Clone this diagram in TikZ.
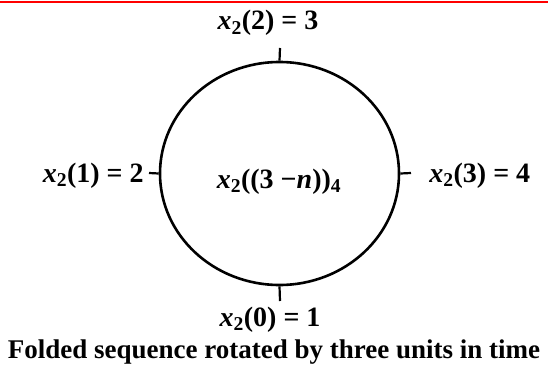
\documentclass[tikz,border=0pt]{standalone}
\usepackage{fontspec}
\setmainfont{Liberation Serif}
\usetikzlibrary{shapes.geometric}
\newcommand{\xtwo}{\textit{x}\textsubscript{2}}
\begin{document}
\begin{tikzpicture}[x=1pt, y=-1pt, line width=2.6pt,
    every node/.style={font=\bfseries\fontsize{28}{32}\selectfont, inner sep=0pt},
    lbl/.style={anchor=base}]
				% 1. 画布与顶部红线
				\useasboundingbox (0,0) rectangle (548,369);
				\draw[red, line width=2pt] (0,2.5) -- (548,2.5);
				
				% 2. 圆环
				\node[ellipse, draw, minimum width=239pt, minimum height=223pt] (ring) at (279.5,173.5) {};
				
				% 3. 刻度端点
				\coordinate (t2) at (280,48);
				\coordinate (t1) at (149,173);
				\coordinate (t3) at (411,173);
				\coordinate (t0) at (280,301);
				\draw[line width=2.2pt] (ring.north) -- (t2);
				\draw[line width=2.2pt] (ring.west) -- (t1);
				\draw[line width=2.2pt] (ring.east) -- (t3);
				\draw[line width=2.2pt] (ring.south) -- (t0);
				
				% 4. 标签
				\node[lbl] (x2) at (268,30) {\xtwo(2) = 3};
				\node[lbl, anchor=base east] (x1) at (145,182) {\xtwo(1) = 2};
				\node[lbl, anchor=base west] (x3) at (428,182) {\xtwo(3) = 4};
				\node[lbl] (xc) at (279,188) {\xtwo((3 −\textit{n}))\textsubscript{4}};
				\node[lbl] (x0) at (270,326) {\xtwo(0) = 1};
				\node[lbl, font=\bfseries\fontsize{27}{30}\selectfont] (cap) at (274,358) {Folded sequence rotated by three units in time};
\end{tikzpicture}
\end{document}
